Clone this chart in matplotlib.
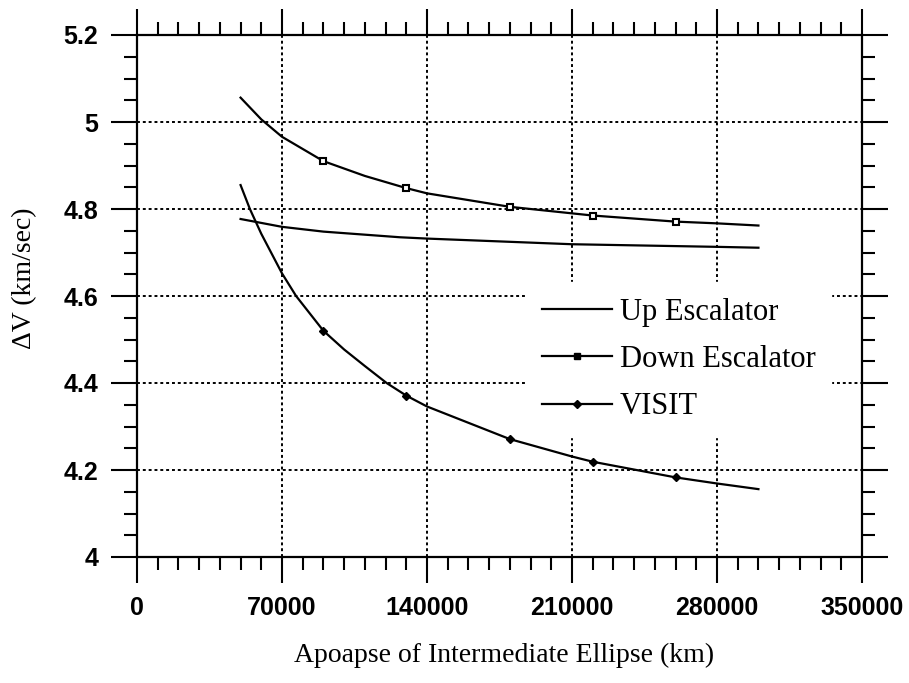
import numpy as np
import matplotlib
matplotlib.use('Agg')
import matplotlib.pyplot as plt
from matplotlib.ticker import MultipleLocator

# values
up_x = [50000, 70000, 90000, 127000, 140000, 210000, 280000, 300000]
up_y = [4.777, 4.759, 4.748, 4.735, 4.732, 4.719, 4.713, 4.711]

down_x = [50000, 60000, 70000, 90000, 110000, 130000, 140000, 180000, 210000, 220000, 260000, 280000, 300000]
down_y = [5.056, 5.006, 4.966, 4.910, 4.876, 4.848, 4.836, 4.805, 4.790, 4.785, 4.771, 4.767, 4.762]

visit_x = [50000, 54500, 60000, 70000, 76800, 90000, 100000, 110000, 120500, 130000, 140000,
           180000, 210000, 220000, 260000, 280000, 300000]
visit_y = [4.855, 4.800, 4.743, 4.652, 4.600, 4.520, 4.477, 4.439, 4.400, 4.371, 4.346,
           4.271, 4.231, 4.219, 4.183, 4.169, 4.156]

mark_x = [90000, 130000, 180000, 220000, 260000]
down_mark_y = [4.910, 4.848, 4.805, 4.785, 4.771]
visit_mark_y = [4.520, 4.371, 4.271, 4.219, 4.183]

xticks = [0, 70000, 140000, 210000, 280000, 350000]
xtick_labels = ['0', '70000', '140000', '210000', '280000', '350000']
yticks = [4.0, 4.2, 4.4, 4.6, 4.8, 5.0, 5.2]
ytick_labels = ['4', '4.2', '4.4', '4.6', '4.8', '5', '5.2']

fig = plt.figure(figsize=(9.09, 6.83), dpi=100)
ax = fig.add_axes([137/909, 126/683, 725/909, 522/683])

ax.plot(up_x, up_y, color='black', linewidth=1.6)
ax.plot(down_x, down_y, color='black', linewidth=1.6)
ax.plot(visit_x, visit_y, color='black', linewidth=1.6)
ax.plot(mark_x, down_mark_y, linestyle='none', marker='s', markersize=5,
        markerfacecolor='white', markeredgecolor='black', markeredgewidth=1.5)
ax.plot(mark_x, visit_mark_y, linestyle='none', marker='D', markersize=4.5, color='black')

# legend proxies
h_up, = ax.plot([], [], color='black', linewidth=1.6)
h_down, = ax.plot([], [], color='black', linewidth=1.6, marker='s', markersize=4.5)
h_visit, = ax.plot([], [], color='black', linewidth=1.6, marker='D', markersize=4)

ax.set_xlim(0, 350000)
ax.set_ylim(4.0, 5.2)
ax.set_xticks(xticks)
ax.set_xticklabels(xtick_labels, fontfamily='Liberation Sans', fontweight='bold', fontsize=18)
ax.set_yticks(yticks)
ax.set_yticklabels(ytick_labels, fontfamily='Liberation Sans', fontweight='bold', fontsize=18)
ax.xaxis.set_minor_locator(MultipleLocator(10000))
ax.yaxis.set_minor_locator(MultipleLocator(0.05))
ax.tick_params(which='both', direction='out', top=True, right=True, width=1.5, color='black')
ax.tick_params(which='major', length=19, pad=9)
ax.tick_params(which='minor', length=9.5)
for side in ax.spines.keys():
    ax.spines[side].set_linewidth(1.6)

ax.grid(which='major', color='black', linestyle=(0, (1.5, 1.5)), linewidth=1.4)
ax.set_axisbelow(True)

ax.set_xlabel('Apoapse of Intermediate Ellipse (km)', fontfamily='Liberation Serif', fontsize=20)
ax.set_ylabel('\u0394V (km/sec)', fontfamily='Liberation Serif', fontsize=20)
ax.xaxis.set_label_coords(0.506, -0.165)
ax.yaxis.set_label_coords(-0.138, 0.534)

leg = ax.legend([h_up, h_down, h_visit], ['Up Escalator', 'Down Escalator', 'VISIT'],
                loc='upper left', bbox_to_anchor=(0.537, 0.527), borderaxespad=0,
                prop={'family': 'Liberation Serif', 'size': 22},
                handlelength=2.3, handletextpad=0.23, labelspacing=0.6,
                borderpad=0.52, frameon=True, fancybox=False, framealpha=1,
                facecolor='white', edgecolor='white')
leg.set_zorder(5)

fig.savefig('out.png', dpi=100)
